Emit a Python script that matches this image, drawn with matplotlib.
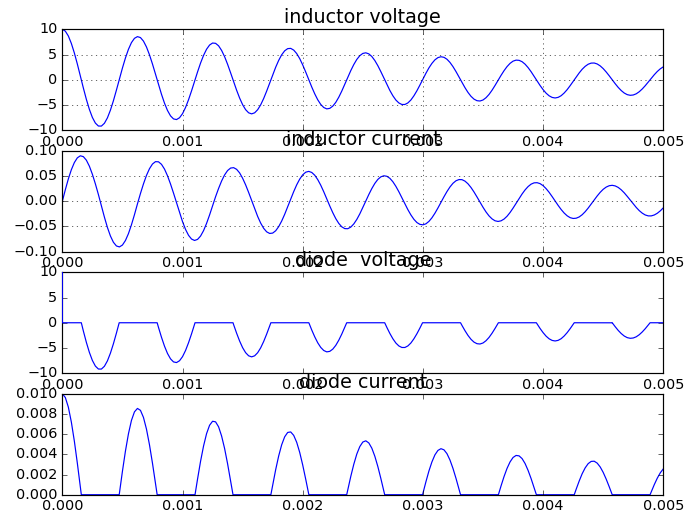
import numpy as np
import matplotlib
matplotlib.use("Agg")
import matplotlib.pyplot as plt

plt.style.use("classic")

# sample times (s) and readings taken off the traces, every 25 us
t_end = 0.005
t = np.linspace(0.0, t_end, 201)

inductor_v = [10.0, 9.63, 8.68, 7.20, 5.31, 3.11, 0.74, -1.64, -3.89, -5.87,
              -7.47, -8.59, -9.17, -9.18, -8.63, -7.56, -6.03, -4.16, -2.05, 0.15,
              2.32, 4.32, 6.03, 7.36, 8.21, 8.55, 8.36, 7.66, 6.50, 4.95,
              3.12, 1.13, -0.92, -2.88, -4.64, -6.09, -7.15, -7.76, -7.89, -7.53,
              -6.72, -5.50, -3.96, -2.20, -0.32, 1.55, 3.31, 4.83, 6.05, 6.88,
              7.28, 7.22, 6.73, 5.82, 4.58, 3.06, 1.38, -0.37, -2.07, -3.62,
              -4.94, -5.93, -6.55, -6.76, -6.55, -5.94, -4.98, -3.72, -2.25, -0.66,
              0.95, 2.48, 3.84, 4.95, 5.74, 6.17, 6.22, 5.88, 5.19, 4.19,
              2.94, 1.53, 0.05, -1.43, -2.79, -3.97, -4.89, -5.50, -5.77, -5.67,
              -5.23, -4.48, -3.46, -2.24, -0.90, 0.48, 1.82, 3.02, 4.03, 4.77,
              5.22, 5.34, 5.13, 4.61, 3.81, 2.79, 1.61, 0.35, -0.92, -2.12,
              -3.17, -4.02, -4.60, -4.90, -4.90, -4.59, -4.01, -3.18, -2.18, -1.05,
              0.13, 1.28, 2.35, 3.25, 3.95, 4.39, 4.56, 4.45, 4.07, 3.44,
              2.61, 1.63, 0.56, -0.53, -1.57, -2.51, -3.28, -3.84, -4.15, -4.21,
              -4.01, -3.56, -2.91, -2.08, -1.13, -0.13, 0.87, 1.80, 2.61, 3.25,
              3.69, 3.89, 3.85, 3.58, 3.09, 2.41, 1.60, 0.70, -0.23, -1.14,
              -1.96, -2.66, -3.18, -3.50, -3.61, -3.49, -3.16, -2.63, -1.96, -1.17,
              -0.32, 0.54, 1.35, 2.08, 2.66, 3.08, 3.30, 3.32, 3.13, 2.75,
              2.21, 1.54, 0.79, -0.01, -0.79, -1.52, -2.14, -2.63, -2.95, -3.08,
              -3.02, -2.78, -2.37, -1.82, -1.17, -0.45, 0.29, 1.00, 1.64, 2.17,
              2.56]

inductor_i = [0.0, 0.0229, 0.0443, 0.0625, 0.0767, 0.0861, 0.0901, 0.0884, 0.0814, 0.0695,
              0.0535, 0.0344, 0.0134, -0.0089, -0.0314, -0.0518, -0.0688, -0.0813, -0.0886, -0.0905,
              -0.0868, -0.0778, -0.0642, -0.0467, -0.0267, -0.0052, 0.0154, 0.0344, 0.0512, 0.0645,
              0.0738, 0.0785, 0.0782, 0.0732, 0.0638, 0.0505, 0.0343, 0.0162, -0.0028, -0.0224,
              -0.0404, -0.0558, -0.0675, -0.0749, -0.0777, -0.0756, -0.0690, -0.0582, -0.0439, -0.0272,
              -0.0089, 0.0090, 0.0254, 0.0401, 0.0522, 0.0609, 0.0658, 0.0666, 0.0633, 0.0562,
              0.0456, 0.0325, 0.0175, 0.0016, -0.0147, -0.0300, -0.0432, -0.0536, -0.0606, -0.0638,
              -0.0631, -0.0585, -0.0503, -0.0392, -0.0258, -0.0110, 0.0043, 0.0191, 0.0326, 0.0439,
              0.0524, 0.0576, 0.0592, 0.0571, 0.0516, 0.0429, 0.0318, 0.0188, 0.0048, -0.0093,
              -0.0226, -0.0344, -0.0439, -0.0507, -0.0542, -0.0544, -0.0512, -0.0449, -0.0360, -0.0250,
              -0.0125, 0.0005, 0.0134, 0.0252, 0.0354, 0.0433, 0.0484, 0.0505, 0.0495, 0.0455,
              0.0387, 0.0296, 0.0188, 0.0070, -0.0051, -0.0167, -0.0271, -0.0358, -0.0422, -0.0458,
              -0.0467, -0.0447, -0.0399, -0.0328, -0.0237, -0.0133, -0.0022, 0.0088, 0.0192, 0.0283,
              0.0356, 0.0406, 0.0430, 0.0428, 0.0399, 0.0346, 0.0273, 0.0184, 0.0085, -0.0019,
              -0.0119, -0.0212, -0.0290, -0.0349, -0.0387, -0.0400, -0.0388, -0.0353, -0.0297, -0.0223,
              -0.0136, -0.0042, 0.0053, 0.0144, 0.0225, 0.0291, 0.0339, 0.0365, 0.0368, 0.0349,
              0.0309, 0.0250, 0.0177, 0.0093, 0.0005, -0.0082, -0.0163, -0.0233, -0.0288, -0.0325,
              -0.0341, -0.0336, -0.0311, -0.0267, -0.0207, -0.0135, -0.0056, 0.0026, 0.0105, 0.0177,
              0.0237, 0.0281, 0.0308, 0.0316, 0.0304, 0.0274, 0.0227, 0.0167, 0.0097, 0.0023,
              -0.0052, -0.0123, -0.0186, -0.0236, -0.0272, -0.0290, -0.0290, -0.0272, -0.0238, -0.0190,
              -0.0131]

# times where the inductor voltage crosses zero (diode switches)
zero_times = [0.000158, 0.000473, 0.000789, 0.001104, 0.00142, 0.001735, 0.002051, 0.002366,
              0.002682, 0.002997, 0.003313, 0.003628, 0.003944, 0.004259, 0.004575, 0.00489]

r_diode = 1000.0

# diode traces: voltage follows the negative lobes, current the positive ones
v_arr = np.array(inductor_v)
t_d = np.concatenate([t, zero_times])
order = np.argsort(t_d, kind="stable")
t_d = t_d[order]
zeros = np.zeros(len(zero_times))
diode_v = np.concatenate([np.minimum(v_arr, 0), zeros])[order]
diode_i = np.concatenate([np.maximum(v_arr, 0) / r_diode, zeros])[order]
# switch-on spike at t = 0
t_dv = np.r_[0.0, t_d]
diode_v = np.r_[inductor_v[0], diode_v]

fig, axes = plt.subplots(4, 1, figsize=(8, 515 / 86), dpi=86)
fig.subplots_adjust(left=0.0906, right=0.9641, top=0.9431, bottom=0.0394, hspace=0.204)

title_size = 16

ax = axes[0]
ax.plot(t, inductor_v, "b-")
ax.set_title("inductor voltage", fontsize=title_size)
ax.set_ylim(-10, 10)
ax.set_yticks([-10, -5, 0, 5, 10])
ax.grid(True)

ax = axes[1]
ax.plot(t, inductor_i, "b-")
ax.set_title("inductor current", fontsize=title_size)
ax.set_ylim(-0.1, 0.1)
ax.set_yticks([-0.1, -0.05, 0, 0.05, 0.1])
ax.grid(True)

ax = axes[2]
ax.plot(t_dv, diode_v, "b-", zorder=3)
ax.set_title("diode  voltage", fontsize=title_size)
ax.set_ylim(-10, 10)
ax.set_yticks([-10, -5, 0, 5, 10])

ax = axes[3]
ax.plot(t_d, diode_i, "b-")
ax.set_title("diode current", fontsize=title_size)
ax.set_ylim(0, 0.01)
ax.set_yticks([0, 0.002, 0.004, 0.006, 0.008, 0.01])

for ax in axes:
    ax.set_xlim(0, t_end)
    ax.set_xticks([0, 0.001, 0.002, 0.003, 0.004, 0.005])

fig.savefig("out.png", dpi=86)
